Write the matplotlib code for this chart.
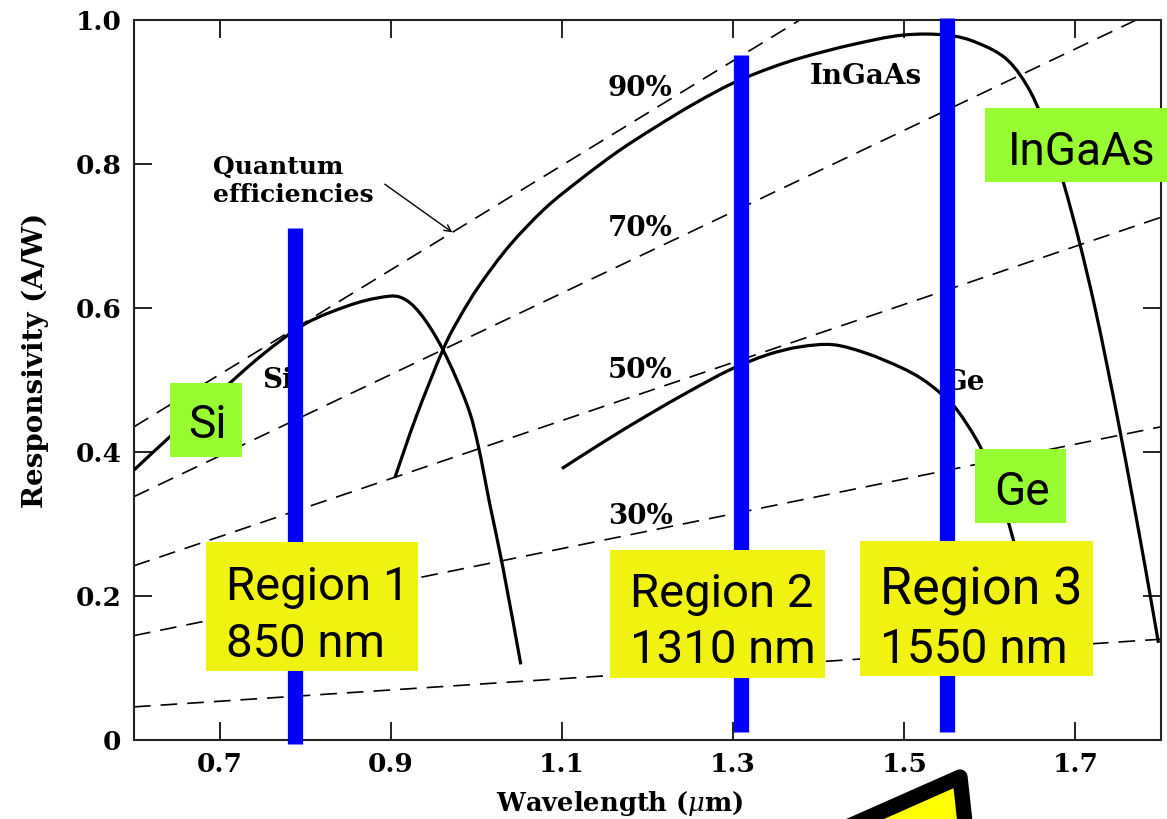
import matplotlib
matplotlib.use("Agg")
import matplotlib.pyplot as plt
from matplotlib.patches import Rectangle, Polygon, PathPatch
from matplotlib.path import Path

# ---------------- data ----------------
si_wl = [0.600, 0.650, 0.700, 0.750, 0.800, 0.850, 0.885, 0.911, 0.934, 0.961,
         0.989, 1.002, 1.016, 1.031, 1.052]
si_resp = [0.375, 0.430, 0.483, 0.535, 0.578, 0.603, 0.614, 0.615, 0.593, 0.542,
           0.466, 0.410, 0.326, 0.240, 0.105]

ingaas_wl = [0.905, 0.930, 0.961, 0.980, 1.004, 1.039, 1.080, 1.121, 1.165, 1.209,
             1.255, 1.301, 1.345, 1.384, 1.440, 1.498, 1.550, 1.586, 1.621, 1.648,
             1.669, 1.687, 1.705, 1.722, 1.737, 1.752, 1.767, 1.782, 1.797]
ingaas_resp = [0.365, 0.450, 0.542, 0.586, 0.632, 0.687, 0.738, 0.778, 0.817, 0.851,
               0.884, 0.913, 0.934, 0.949, 0.966, 0.979, 0.979, 0.968, 0.944, 0.899,
               0.838, 0.770, 0.690, 0.605, 0.520, 0.430, 0.335, 0.237, 0.135]

ge_wl = [1.100, 1.150, 1.200, 1.250, 1.296, 1.340, 1.378, 1.417, 1.456, 1.495,
         1.520, 1.542, 1.562, 1.589, 1.610, 1.627, 1.645]
ge_resp = [0.377, 0.415, 0.451, 0.485, 0.514, 0.535, 0.546, 0.549, 0.537, 0.518,
           0.502, 0.482, 0.458, 0.407, 0.345, 0.280, 0.190]

# constant quantum-efficiency lines (start / end points)
qe_names = ["90%", "70%", "50%", "30%", "10%"]
qe_wl_start = [0.600, 0.600, 0.600, 0.600, 0.600]
qe_resp_start = [0.435, 0.338, 0.242, 0.145, 0.046]
qe_wl_end = [1.378, 1.771, 1.800, 1.800, 1.800]
qe_resp_end = [1.000, 1.000, 0.726, 0.435, 0.140]

# operating windows
region_names = ["Region 1", "Region 2", "Region 3"]
region_nm = ["850 nm", "1310 nm", "1550 nm"]
region_wl = [0.788, 1.309, 1.550]
region_top = [0.711, 0.951, 1.003]
region_bottom = [-0.006, 0.011, 0.011]

material_names = ["Si", "InGaAs", "Ge"]

x_ticks = [0.7, 0.9, 1.1, 1.3, 1.5, 1.7]
x_tick_labels = ["0.7", "0.9", "1.1", "1.3", "1.5", "1.7"]
y_ticks = [0.0, 0.2, 0.4, 0.6, 0.8, 1.0]
y_tick_labels = ["0", "0.2", "0.4", "0.6", "0.8", "1.0"]

# ---------------- figure ----------------
W, H = 1167, 819
plt.rcParams["mathtext.fontset"] = "dejavuserif"
fig = plt.figure(figsize=(W / 100, H / 100), dpi=100)
fig.patch.set_facecolor("white")


def fxy(x, y):
    """pixel position (from top-left) -> figure fraction"""
    return x / W, 1 - y / H


def smooth_curve(xs, ys):
    """Catmull-Rom curve through the given points, as cubic Bezier segments."""
    pts = list(zip(xs, ys))
    verts = [pts[0]]
    codes = [Path.MOVETO]
    n = len(pts)
    for i in range(n - 1):
        p0 = pts[max(i - 1, 0)]
        p1 = pts[i]
        p2 = pts[i + 1]
        p3 = pts[min(i + 2, n - 1)]
        c1 = (p1[0] + (p2[0] - p0[0]) / 6, p1[1] + (p2[1] - p0[1]) / 6)
        c2 = (p2[0] - (p3[0] - p1[0]) / 6, p2[1] - (p3[1] - p1[1]) / 6)
        verts += [c1, c2, p2]
        codes += [Path.CURVE4] * 3
    return Path(verts, codes)


ax = fig.add_axes([134 / W, 1 - 740 / H, (1161 - 134) / W, (740 - 20) / H])
ax.set_xlim(0.6, 1.8)
ax.set_ylim(0.0, 1.0)

SERIF = "DejaVu Serif"
SANS = "Roboto"

for s in ax.spines.values():
    s.set_linewidth(1.5)
    s.set_color("#222222")

ax.set_xticks(x_ticks)
ax.set_xticklabels(x_tick_labels)
ax.set_yticks(y_ticks)
ax.set_yticklabels(y_tick_labels)
ax.tick_params(direction="in", length=13, width=1.4, top=True, right=True,
               labelsize=19, pad=9, color="#222222")
for lab in ax.get_xticklabels() + ax.get_yticklabels():
    lab.set_fontfamily(SERIF)
    lab.set_fontweight("bold")

# quantum efficiency dashed lines
for i in range(len(qe_names)):
    ax.plot([qe_wl_start[i], qe_wl_end[i]], [qe_resp_start[i], qe_resp_end[i]],
            color="black", lw=1.2, ls=(0, (10, 6)), zorder=2)

# responsivity curves
for wl, r in [(si_wl, si_resp), (ingaas_wl, ingaas_resp), (ge_wl, ge_resp)]:
    ax.add_patch(PathPatch(smooth_curve(wl, r), facecolor="none",
                           edgecolor="black", lw=2.3, zorder=3))

# labels printed on the plot
lbl = dict(transform=fig.transFigure, family=SERIF, fontsize=20,
           fontweight="bold", va="center")
ax.text(*fxy(640, 88), qe_names[0], ha="center", **lbl)
ax.text(*fxy(640, 229), qe_names[1], ha="center", **lbl)
ax.text(*fxy(640, 371), qe_names[2], ha="center", **lbl)
ax.text(*fxy(640, 517), qe_names[3], ha="center", **lbl)
ax.text(*fxy(866, 76), material_names[1], ha="center", **lbl)
ax.text(*fxy(262, 381), material_names[0], ha="left", **lbl)
ax.text(*fxy(944, 383), material_names[2], ha="left", **lbl)
ax.text(*fxy(213, 181), "Quantum\nefficiencies", transform=fig.transFigure,
        family=SERIF, fontsize=18, fontweight="bold", ha="left", va="center",
        linespacing=1.2)
ax.annotate("", xy=(0.972, 0.705), xytext=(0.893, 0.772),
            arrowprops=dict(arrowstyle="->", lw=1.0, color="black",
                            shrinkA=0, shrinkB=0, mutation_scale=12))

# window markers
for i in range(len(region_wl)):
    ax.plot([region_wl[i], region_wl[i]], [region_bottom[i], region_top[i]],
            color="#0000FF", lw=11, solid_capstyle="butt", zorder=6, clip_on=False)

# axis titles
fig.text(*fxy(620, 803), r"Wavelength ($\mu$m)", family=SERIF, fontsize=18.5,
         fontweight="bold", ha="center", va="center")
fig.text(*fxy(35, 360), "Responsivity (A/W)", family=SERIF, fontsize=20,
         fontweight="bold", ha="center", va="center", rotation=90)

# highlighted boxes
YELLOW = "#F2F212"
GREEN = "#98FC32"


def box(x0, y0, x1, y1, color):
    fig.patches.append(Rectangle(fxy(x0, y1), (x1 - x0) / W, (y1 - y0) / H,
                                 transform=fig.transFigure, facecolor=color,
                                 edgecolor="none", zorder=10))


box(206, 542, 418, 671, YELLOW)
box(610, 550, 825, 678, YELLOW)
box(860, 541, 1093, 676, YELLOW)
fig.text(*fxy(226, 600), region_names[0], family=SANS, fontsize=34, ha="left",
         va="baseline", zorder=11)
fig.text(*fxy(226, 657), region_nm[0], family=SANS, fontsize=34, ha="left",
         va="baseline", zorder=11)
fig.text(*fxy(630, 607), region_names[1], family=SANS, fontsize=34, ha="left",
         va="baseline", zorder=11)
fig.text(*fxy(630, 663), region_nm[1], family=SANS, fontsize=34, ha="left",
         va="baseline", zorder=11)
fig.text(*fxy(880, 604), region_names[2], family=SANS, fontsize=37.5, ha="left",
         va="baseline", zorder=11)
fig.text(*fxy(880, 663), region_nm[2], family=SANS, fontsize=34.5, ha="left",
         va="baseline", zorder=11)

box(170, 383, 242, 457, GREEN)
box(985, 108, 1167, 182, GREEN)
box(975, 449, 1066, 523, GREEN)
fig.text(*fxy(207, 438), material_names[0], family=SANS, fontsize=33,
         ha="center", va="baseline", zorder=11)
fig.text(*fxy(1082, 165), material_names[1], family=SANS, fontsize=33,
         ha="center", va="baseline", zorder=11)
fig.text(*fxy(1022, 505), material_names[2], family=SANS, fontsize=33,
         ha="center", va="baseline", zorder=11)

# callout pointer at the bottom edge
tri = [fxy(960, 777), fxy(795, 850), fxy(968, 850)]
fig.patches.append(Polygon(tri, closed=True, transform=fig.transFigure,
                           facecolor="#FFFF00", edgecolor="black", lw=11,
                           joinstyle="round", zorder=12))

fig.savefig("out.png", dpi=100, facecolor="white")
